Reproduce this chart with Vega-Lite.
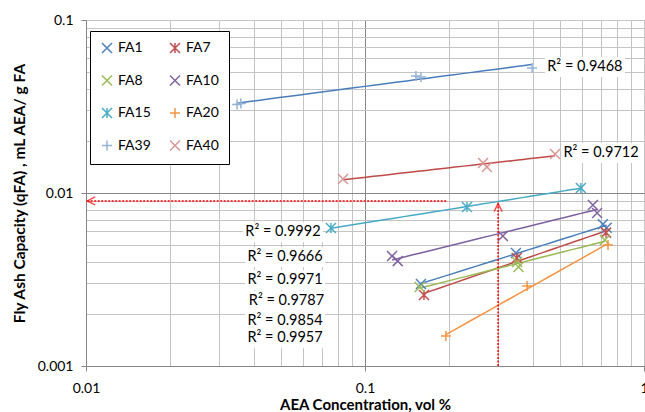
{
  "$schema": "https://vega.github.io/schema/vega-lite/v6.json",
  "width": 558,
  "height": 346,
  "autosize": {"type": "none"},
  "padding": {"left": 86, "top": 20, "right": 1, "bottom": 46},
  "config": {"font": "Lato", "view": {"stroke": null}, "background": "white"},
  "datasets": {
    "pts": [
      {"series": "FA1", "x": 0.1587, "y": 0.00298},
      {"series": "FA1", "x": 0.3475, "y": 0.0045},
      {"series": "FA1", "x": 0.712, "y": 0.0066},
      {"series": "FA1", "x": 0.735, "y": 0.0063},
      {"series": "FA7", "x": 0.1627, "y": 0.00257},
      {"series": "FA7", "x": 0.35, "y": 0.00421},
      {"series": "FA7", "x": 0.731, "y": 0.0059},
      {"series": "FA8", "x": 0.157, "y": 0.00286},
      {"series": "FA8", "x": 0.3507, "y": 0.00399},
      {"series": "FA8", "x": 0.355, "y": 0.00373},
      {"series": "FA8", "x": 0.7244, "y": 0.00535},
      {"series": "FA10", "x": 0.125, "y": 0.00432},
      {"series": "FA10", "x": 0.131, "y": 0.00404},
      {"series": "FA10", "x": 0.312, "y": 0.00564},
      {"series": "FA10", "x": 0.656, "y": 0.00853},
      {"series": "FA10", "x": 0.679, "y": 0.00766},
      {"series": "FA15", "x": 0.0755, "y": 0.00627},
      {"series": "FA15", "x": 0.232, "y": 0.0083},
      {"series": "FA15", "x": 0.594, "y": 0.0107},
      {"series": "FA20", "x": 0.195, "y": 0.00149},
      {"series": "FA20", "x": 0.381, "y": 0.0029},
      {"series": "FA20", "x": 0.743, "y": 0.005},
      {"series": "FA39", "x": 0.0348, "y": 0.03248},
      {"series": "FA39", "x": 0.0359, "y": 0.0329},
      {"series": "FA39", "x": 0.1523, "y": 0.0475},
      {"series": "FA39", "x": 0.1587, "y": 0.0468},
      {"series": "FA39", "x": 0.397, "y": 0.0528},
      {"series": "FA40", "x": 0.0834, "y": 0.01205},
      {"series": "FA40", "x": 0.265, "y": 0.0149},
      {"series": "FA40", "x": 0.2735, "y": 0.01413},
      {"series": "FA40", "x": 0.48, "y": 0.0168}
    ],
    "labels": [
      {"label": "R² = 0.9468", "x": 0.614, "y": 0.0535},
      {"label": "R² = 0.9712", "x": 0.7015, "y": 0.01702},
      {"label": "R² = 0.9992", "x": 0.0508, "y": 0.00593},
      {"label": "R² = 0.9666", "x": 0.0517, "y": 0.004251},
      {"label": "R² = 0.9971", "x": 0.0517, "y": 0.003142},
      {"label": "R² = 0.9787", "x": 0.0523, "y": 0.002375},
      {"label": "R² = 0.9854", "x": 0.0517, "y": 0.001827},
      {"label": "R² = 0.9957", "x": 0.0517, "y": 0.001446}
    ]
  },
  "encoding": {
    "x": {
      "field": "x", "type": "quantitative",
      "scale": {"type": "log", "domain": [0.01, 1], "nice": false},
      "axis": {
        "title": "AEA Concentration, vol %",
        "titleFontSize": 15, "titleFontWeight": "bold", "titleColor": "black", "titlePadding": 2,
        "values": [0.01, 0.02, 0.03, 0.04, 0.05, 0.06, 0.07, 0.08, 0.09, 0.1, 0.2, 0.3, 0.4, 0.5, 0.6, 0.7, 0.8, 0.9, 1],
        "labelExpr": "datum.value == 0.01 ? '0.01' : datum.value == 0.1 ? '0.1' : datum.value == 1 ? '1' : ''",
        "labelFlush": false, "labelOverlap": false, "labelFontSize": 14, "labelColor": "black", "labelPadding": 10,
        "grid": true,
        "gridColor": {"condition": {"test": "datum.value == 0.1", "value": "#868686"}, "value": "#c4c4c4"},
        "gridWidth": 1,
        "domainColor": "#868686",
        "tickColor": "#868686", "tickSize": 5,
        "tickOpacity": {"condition": {"test": "datum.value == 0.01 || datum.value == 0.1 || datum.value == 1", "value": 1}, "value": 0}
      }
    },
    "y": {
      "field": "y", "type": "quantitative",
      "scale": {"type": "log", "domain": [0.001, 0.1], "nice": false},
      "axis": {
        "title": "Fly Ash Capacity (qFA) , mL AEA/ g FA",
        "titleFontSize": 15.5, "titleFontWeight": "bold", "titleColor": "black", "titlePadding": 10,
        "values": [0.001, 0.002, 0.003, 0.004, 0.005, 0.006, 0.007, 0.008, 0.009, 0.01, 0.02, 0.03, 0.04, 0.05, 0.06, 0.07, 0.08, 0.09, 0.1],
        "labelExpr": "datum.value == 0.001 ? '0.001' : datum.value == 0.01 ? '0.01' : datum.value == 0.1 ? '0.1' : ''",
        "labelFlush": false, "labelOverlap": false, "labelFontSize": 14, "labelColor": "black", "labelPadding": 8,
        "grid": true,
        "gridColor": {"condition": {"test": "datum.value == 0.01", "value": "#868686"}, "value": "#c4c4c4"},
        "gridWidth": 1,
        "domainColor": "#868686",
        "tickColor": "#868686", "tickSize": 5,
        "tickOpacity": {"condition": {"test": "datum.value == 0.001 || datum.value == 0.01 || datum.value == 0.1", "value": 1}, "value": 0}
      }
    }
  },
  "layer": [
    {
      "data": {"name": "pts"},
      "transform": [{"regression": "y", "on": "x", "groupby": ["series"], "method": "pow"}],
      "mark": {"type": "line", "strokeWidth": 1.5, "clip": true},
      "encoding": {
        "stroke": {
          "field": "series", "type": "nominal", "legend": null,
          "scale": {
            "domain": ["FA40", "FA39", "FA20", "FA15", "FA10", "FA8", "FA7", "FA1"],
            "range": ["#be4b48", "#4a7ebb", "#f69240", "#46aac5", "#7d60a0", "#98b954", "#be4b48", "#4a7ebb"]
          }
        }
      }
    },
    {
      "data": {"name": "pts"},
      "mark": {"type": "point", "filled": false, "strokeWidth": 1.5, "size": 100, "opacity": 1},
      "encoding": {
        "color": {
          "field": "series", "type": "nominal",
          "scale": {
            "domain": ["FA1", "FA7", "FA8", "FA10", "FA15", "FA20", "FA39", "FA40"],
            "range": ["#4F81BD", "#C0504D", "#9BBB59", "#8064A2", "#4BACC6", "#F79646", "#95B3D7", "#D99694"]
          },
          "legend": {
            "title": null, "orient": "none", "legendX": 4, "legendY": 11, "columns": 2, "direction": "horizontal",
            "strokeColor": "black", "fillColor": "white", "padding": 10,
            "rowPadding": 16.5, "columnPadding": 16, "labelOffset": 4,
            "labelFontSize": 14, "labelColor": "black", "symbolSize": 100, "symbolStrokeWidth": 1.5
          }
        },
        "shape": {
          "field": "series", "type": "nominal",
          "scale": {
            "domain": ["FA1", "FA7", "FA8", "FA10", "FA15", "FA20", "FA39", "FA40"],
            "range": [
              "M-1,-1L1,1M-1,1L1,-1",
              "M-1,-1L1,1M-1,1L1,-1M0,-1L0,1",
              "M-1,-1L1,1M-1,1L1,-1",
              "M-1,-1L1,1M-1,1L1,-1",
              "M-1,-1L1,1M-1,1L1,-1M0,-1L0,1",
              "M-1,0L1,0M0,-1L0,1",
              "M-1,0L1,0M0,-1L0,1",
              "M-1,-1L1,1M-1,1L1,-1"
            ]
          },
          "legend": {
            "title": null, "orient": "none", "legendX": 4, "legendY": 11, "columns": 2, "direction": "horizontal",
            "strokeColor": "black", "fillColor": "white", "padding": 10,
            "rowPadding": 16.5, "columnPadding": 16, "labelOffset": 4,
            "labelFontSize": 14, "labelColor": "black", "symbolSize": 100, "symbolStrokeWidth": 1.5
          }
        }
      }
    },
    {
      "data": {"values": [{"x": 0.0101, "x2": 0.197, "y": 0.009}]},
      "mark": {"type": "rule", "color": "#FF0000", "strokeWidth": 1.5, "strokeDash": [2, 1.5]},
      "encoding": {"x2": {"field": "x2"}}
    },
    {
      "data": {"values": [{"x": 0.3, "y": 0.001, "y2": 0.0087}]},
      "mark": {"type": "rule", "color": "#FF0000", "strokeWidth": 1.5, "strokeDash": [2, 1.5]},
      "encoding": {"y2": {"field": "y2"}}
    },
    {
      "data": {"values": [{"x": 0.0101, "y": 0.009}]},
      "mark": {"type": "point", "filled": false, "color": "#FF0000", "strokeWidth": 1.5, "size": 64, "shape": "M2,-1L0,0L2,1"}
    },
    {
      "data": {"values": [{"x": 0.3, "y": 0.0087}]},
      "mark": {"type": "point", "filled": false, "color": "#FF0000", "strokeWidth": 1.5, "size": 64, "shape": "M-1,2L0,0L1,2"}
    },
    {
      "data": {"name": "labels"},
      "mark": {"type": "point", "filled": true, "color": "white", "opacity": 1, "size": 6400, "shape": "M-1,-0.25L1,-0.25L1,0.25L-1,0.25Z"}
    },
    {
      "data": {"name": "labels"},
      "mark": {"type": "text", "fontSize": 14.5, "color": "black", "align": "center", "baseline": "middle"},
      "encoding": {"text": {"field": "label"}}
    }
  ]
}
